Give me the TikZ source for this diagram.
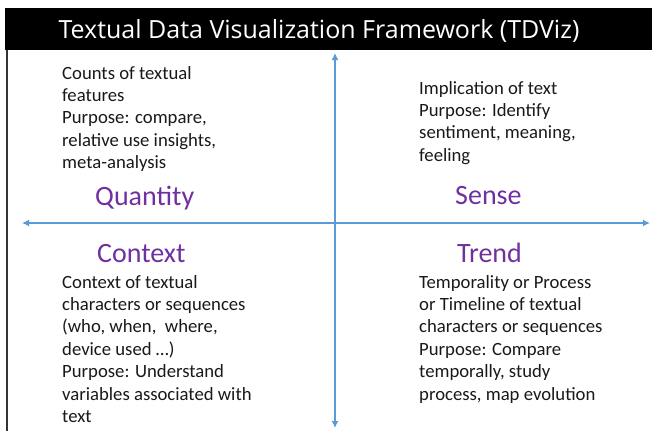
\documentclass[tikz,border=0pt]{standalone}
\usepackage{fontspec}
\setmainfont{Carlito}
\newfontfamily\titlefont{Open Sans}
\usetikzlibrary{arrows.meta}

\definecolor{axisblue}{RGB}{91,155,213}
\definecolor{quadpurple}{RGB}{112,48,160}

\begin{document}
\begin{tikzpicture}[>={Latex[length=7pt,width=7pt]},x=1pt,y=-1pt,
  desc/.style={anchor=base west,align=left,inner sep=0pt,text=black!90,
    font=\fontsize{18.7}{22.4}\selectfont},
  quad/.style={anchor=base west,inner sep=0pt,text=quadpurple,
    font=\fontsize{28}{30}\selectfont}]
	\useasboundingbox (0,0) rectangle (652,431);
	% titulo
	\fill (5,8) rectangle (652,50);
	\node[anchor=base,inner sep=0pt,text=white,font=\titlefont\fontsize{25}{30}\selectfont]
		(title) at (319,38) {Textual Data Visualization Framework (TDViz)};
	% moldura
	\draw[line width=2pt,black!80] (7,50) -- (7,431);
	% eixos
	\coordinate (west) at (22,223);
	\coordinate (east) at (650,223);
	\coordinate (north) at (335,53);
	\coordinate (south) at (335,428);
	\draw[<->,axisblue,line width=1.8pt] (west) -- (east);
	\draw[<->,axisblue,line width=1.8pt] (north) -- (south);
	% quadrante superior esquerdo (base = ultima linha)
	\node[desc] (quantitytxt) at (62,168.6) {Counts of textual\\features\\Purpose: compare,\\relative use insights,\\meta-analysis};
	\node[quad] (quantity) at (95,205) {Quantity};
	% quadrante superior direito
	\node[desc] (sensetxt) at (419,161.2) {Implication of text\\Purpose: Identify\\sentiment, meaning,\\feeling};
	\node[quad] (sense) at (455,204) {Sense};
	% quadrante inferior esquerdo
	\node[quad] (context) at (97,262) {Context};
	\node[desc] (contexttxt) at (62,422.4) {Context of textual\\characters or sequences\\(who, when,\ \ where,\\device used \dots)\\Purpose: Understand\\variables associated with\\text};
	% quadrante inferior direito
	\node[quad] (trend) at (457,262) {Trend};
	\node[desc] (trendtxt) at (419,400) {Temporality or Process\\or Timeline of textual\\characters or sequences\\Purpose: Compare\\temporally, study\\process, map evolution};
\end{tikzpicture}
\end{document}
